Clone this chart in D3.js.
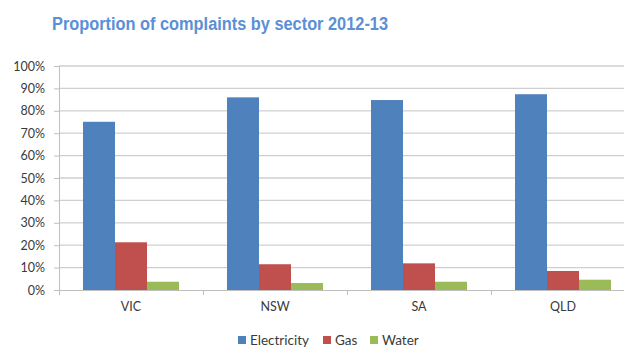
<!DOCTYPE html>
<html><head><meta charset="utf-8">
<script src="https://cdn.jsdelivr.net/npm/d3@7"></script>
<style>body{margin:0;background:#fff;}svg{display:block;}</style>
</head><body>
<svg id="c" width="624" height="347"></svg>
<script>
const categories = ["VIC", "NSW", "SA", "QLD"];
const seriesNames = ["Electricity", "Gas", "Water"];
const electricity = [75.1, 86.0, 84.8, 87.4];
const gas = [21.3, 11.5, 11.9, 8.5];
const water = [3.7, 3.1, 3.7, 4.6];
const yTicks = [0, 10, 20, 30, 40, 50, 60, 70, 80, 90, 100];
const colors = ["#4F81BD", "#C0504D", "#9BBB59"];
const seriesValues = [electricity, gas, water];

(function () {
const svg = d3.select("#c");
const mLeft = 59, mRight = 635, mTop = 66, mBottom = 290;
const labelFont = "Lato, 'Open Sans', sans-serif";

const x0 = d3.scaleBand().domain(categories).range([mLeft, mRight]).paddingInner(1/3).paddingOuter(1/6);
const x1 = d3.scaleBand().domain(seriesNames).range([0, x0.bandwidth()]);
const y = d3.scaleLinear().domain([0, 100]).range([mBottom, mTop]);

// gridlines
svg.append("g").selectAll("line").data(yTicks.filter(d => d > 0)).join("line")
  .attr("x1", mLeft).attr("x2", 624).attr("y1", d => y(d)).attr("y2", d => y(d))
  .attr("stroke", "#cfcfcf").attr("stroke-width", 1.3);

// y axis
const yAxis = d3.axisLeft(y).tickValues(yTicks).tickFormat(d => d + "%").tickSize(5).tickPadding(9);
const ya = svg.append("g").attr("transform", `translate(${mLeft},0)`).call(yAxis);
ya.select(".domain").attr("stroke", "#bfbfbf");
ya.selectAll(".tick line").attr("stroke", "#bfbfbf");
ya.selectAll("text").attr("fill", "#3a3a3a").style("font-family", labelFont).style("font-size", "12.5px");

// bars
const groups = svg.append("g").selectAll("g").data(categories).join("g")
  .attr("transform", d => `translate(${x0(d)},0)`);
groups.selectAll("rect").data((c, i) => seriesNames.map((s, j) => ({s, v: seriesValues[j][i], j})))
  .join("rect")
  .attr("x", d => x1(d.s)).attr("width", x1.bandwidth())
  .attr("y", d => y(d.v)).attr("height", d => y(0) - y(d.v))
  .attr("fill", d => colors[d.j]);

// x axis
const xAxis = d3.axisBottom(x0).tickSize(0).tickPadding(12);
const xa = svg.append("g").attr("transform", `translate(0,${mBottom})`).call(xAxis);
xa.select(".domain").attr("stroke", "#bfbfbf");
xa.selectAll("text").attr("fill", "#3a3a3a").style("font-family", labelFont).style("font-size", "12.5px");
// category boundary ticks
svg.append("g").selectAll("line").data(categories).join("line")
  .attr("x1", d => x0(d) - x0.step() * x0.paddingInner() / 2 + 0.5)
  .attr("x2", d => x0(d) - x0.step() * x0.paddingInner() / 2 + 0.5)
  .attr("y1", mBottom).attr("y2", mBottom + 5).attr("stroke", "#bfbfbf");

// title
svg.append("text").attr("x", 52).attr("y", 30)
  .text("Proportion of complaints by sector 2012-13")
  .attr("textLength", 336).attr("lengthAdjust", "spacingAndGlyphs")
  .attr("fill", "#5B8FD6").style("font-family", "'Liberation Sans', Arial, sans-serif")
  .style("font-weight", "bold").style("font-size", "18px");

// legend
const legendX = [238, 323, 370];
const lg = svg.append("g").selectAll("g").data(seriesNames).join("g")
  .attr("transform", (d, i) => `translate(${legendX[i]},340)`);
lg.append("rect").attr("x", 0).attr("y", -4).attr("width", 8).attr("height", 8).attr("fill", (d, i) => colors[i]);
lg.append("text").attr("x", 12).attr("y", 0).attr("dy", "0.35em").text(d => d)
  .attr("fill", "#3a3a3a").style("font-family", labelFont).style("font-size", "13.5px");
})();
</script>
</body></html>
